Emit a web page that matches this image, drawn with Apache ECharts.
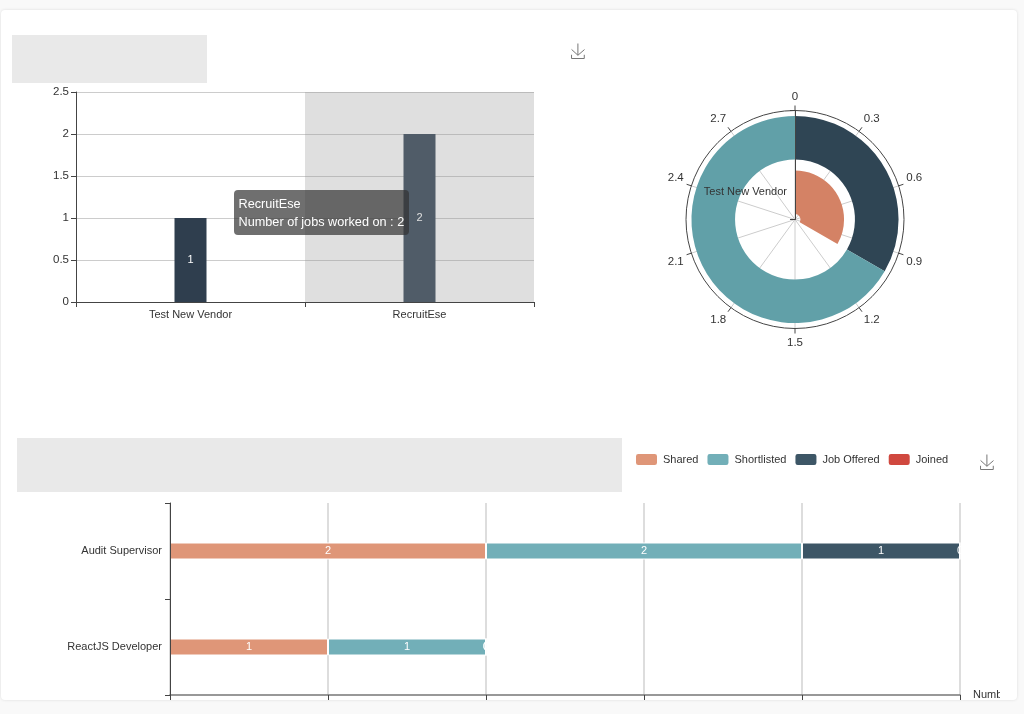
<!DOCTYPE html>
<html>
<head>
<meta charset="utf-8">
<title>Vendor dashboard</title>
<style>
    html, body { margin: 0; padding: 0; width: 1024px; height: 714px; overflow: hidden; background: #f9f9f9; font-family: "Liberation Sans", Arial, sans-serif; }
    #card { position: absolute; left: 1px; top: 10px; width: 1016px; height: 690px; background: #fff; border-radius: 4px; box-shadow: 0 0 3px rgba(0, 0, 0, .12); }
    .mask { position: absolute; background: #e9e9e9; }
    #mask1 { left: 12px; top: 35px; width: 195px; height: 48px; }
    #mask2 { left: 17px; top: 438px; width: 605px; height: 54px; }
    #topChart { position: absolute; left: 0; top: 0; width: 1024px; height: 420px; }
    #bottomClip { position: absolute; left: 0; top: 420px; width: 1000px; height: 280px; overflow: hidden; }
    #bottomChart { position: absolute; left: 0; top: 0; width: 1024px; height: 320px; }
</style>
</head>
<body>
<div id="card"></div>
<div id="mask1" class="mask"></div>
<div id="mask2" class="mask"></div>
<div id="topChart"></div>
<div id="bottomClip"><div id="bottomChart"></div></div>
<script src="https://cdn.jsdelivr.net/npm/echarts@6/dist/echarts.min.js"></script>
<script>
    var vendors = ["Test New Vendor", "RecruitEse"];
    var jobsWorkedOn = [1, 2];

    var ringInner = [1, null];
    var ringDark = [null, 1];
    var ringTeal = [null, 2];
    var angleTicks = { min: 0, max: 3, interval: 0.3 };

    var jobTitles = ["Audit Supervisor", "ReactJS Developer"];
    var stageNames = ["Shared", "Shortlisted", "Job Offered", "Joined"];
    var stageColors = ["#df9678", "#72afb8", "#3d5666", "#d0483f"];
    var shared = [2, 1];
    var shortlisted = [2, 1];
    var jobOffered = [1, 0];
    var joined = [0, 0];

    var textColor = "#333";
    var lineColor = "#444";
    var fontFamily = "Liberation Sans";

    var saveTool = function(right, top) {
        return {
            right: right,
            top: top,
            itemSize: 15,
            feature: {
                saveAsImage: { title: "", iconStyle: { borderColor: "#777" } }
            }
        };
    };

    var topChart = echarts.init(document.getElementById("topChart"));
    topChart.setOption({
        animation: false,
        textStyle: { fontFamily: fontFamily },
        toolbox: saveTool(422, 26),
        tooltip: {
            trigger: "axis",
            alwaysShowContent: true,
            transitionDuration: 0,
            axisPointer: { type: "shadow", shadowStyle: { color: "rgba(150,150,150,0.3)" } },
            position: [234, 190],
            backgroundColor: "rgba(50,50,50,0.7)",
            borderWidth: 0,
            borderRadius: 4,
            padding: [4.5, 4.5],
            extraCssText: "box-shadow:none;line-height:18px;",
            textStyle: { color: "#fff", fontSize: 12.7, fontFamily: fontFamily },
            formatter: function(params) {
                return params[0].name + "<br/>Number of jobs worked on : " + params[0].value;
            }
        },
        grid: { left: 76, top: 92, width: 458, height: 210, outerBoundsMode: "none" },
        xAxis: {
            type: "category",
            data: vendors,
            axisLine: { lineStyle: { color: lineColor } },
            axisTick: { show: true, lineStyle: { color: lineColor } },
            axisLabel: { color: textColor, fontSize: 11, margin: 7 }
        },
        yAxis: {
            type: "value",
            min: 0,
            max: 2.5,
            interval: 0.5,
            axisLine: { show: true, lineStyle: { color: lineColor } },
            axisTick: { show: true, lineStyle: { color: lineColor } },
            axisLabel: { color: textColor, fontSize: 11.5, margin: 7 },
            splitLine: { lineStyle: { color: "#ccc" } }
        },
        polar: { center: [795, 219.5], radius: 109 },
        angleAxis: {
            type: "value",
            min: angleTicks.min,
            max: angleTicks.max,
            interval: angleTicks.interval,
            startAngle: 90,
            axisLine: { lineStyle: { color: lineColor } },
            axisTick: { show: true, lineStyle: { color: lineColor } },
            axisLabel: { color: textColor, fontSize: 11.5 },
            splitLine: { lineStyle: { color: "#ccc" } }
        },
        radiusAxis: {
            type: "category",
            data: vendors,
            z: 3,
            axisLine: { lineStyle: { color: lineColor } },
            axisTick: {
                show: true,
                interval: function(index) { return index === 0; },
                lineStyle: { color: lineColor }
            },
            axisLabel: {
                color: textColor,
                fontSize: 11,
                interval: function(index) { return index === 0; }
            },
            splitLine: { show: false }
        },
        series: [
            {
                name: "Jobs",
                type: "bar",
                data: jobsWorkedOn,
                barWidth: 32,
                itemStyle: { color: "#2f3e4e" },
                label: { show: true, position: "inside", color: "#fff", fontSize: 11 }
            },
            {
                type: "bar",
                coordinateSystem: "polar",
                stack: "ring",
                data: ringInner,
                barWidth: "80%",
                silent: true,
                itemStyle: { color: "#d48265" }
            },
            {
                type: "bar",
                coordinateSystem: "polar",
                stack: "ring",
                data: ringDark,
                barWidth: "80%",
                silent: true,
                itemStyle: { color: "#2f4554" }
            },
            {
                type: "bar",
                coordinateSystem: "polar",
                stack: "ring",
                data: ringTeal,
                barWidth: "80%",
                silent: true,
                itemStyle: { color: "#61a0a8" }
            }
        ]
    });
    topChart.dispatchAction({ type: "showTip", seriesIndex: 0, dataIndex: 1 });

    var stageData = [shared, shortlisted, jobOffered, joined];
    var bottomChart = echarts.init(document.getElementById("bottomChart"));
    bottomChart.setOption({
        animation: false,
        textStyle: { fontFamily: fontFamily },
        toolbox: saveTool(13, 17),
        legend: {
            data: stageNames,
            left: 629,
            top: 27,
            itemWidth: 23,
            itemHeight: 13,
            itemGap: 7,
            textStyle: { color: textColor, fontSize: 11 }
        },
        grid: { left: 170, top: 83, width: 790, height: 192, outerBoundsMode: "none" },
        xAxis: {
            type: "value",
            name: "Number of candidates",
            nameGap: 13,
            nameTextStyle: { color: textColor, fontSize: 11 },
            min: 0,
            max: 5,
            interval: 1,
            axisLine: { show: true, lineStyle: { color: "#777", width: 1.5 } },
            axisTick: { show: true, lineStyle: { color: lineColor } },
            axisLabel: { color: textColor, fontSize: 11 },
            splitLine: { lineStyle: { color: "#d2d2d2", width: 1.5 } }
        },
        yAxis: {
            type: "category",
            inverse: true,
            z: 3,
            data: jobTitles,
            axisLine: { lineStyle: { color: lineColor } },
            axisTick: { show: true, lineStyle: { color: lineColor } },
            axisLabel: { color: textColor, fontSize: 11 }
        },
        series: stageNames.map(function(name, i) {
            return {
                name: name,
                type: "bar",
                stack: "stage",
                data: stageData[i],
                barWidth: 17,
                itemStyle: { color: stageColors[i], borderColor: "#fff", borderWidth: 1 },
                label: { show: true, position: "inside", color: "#fff", fontSize: 11 }
            };
        })
    });
</script>
</body>
</html>
